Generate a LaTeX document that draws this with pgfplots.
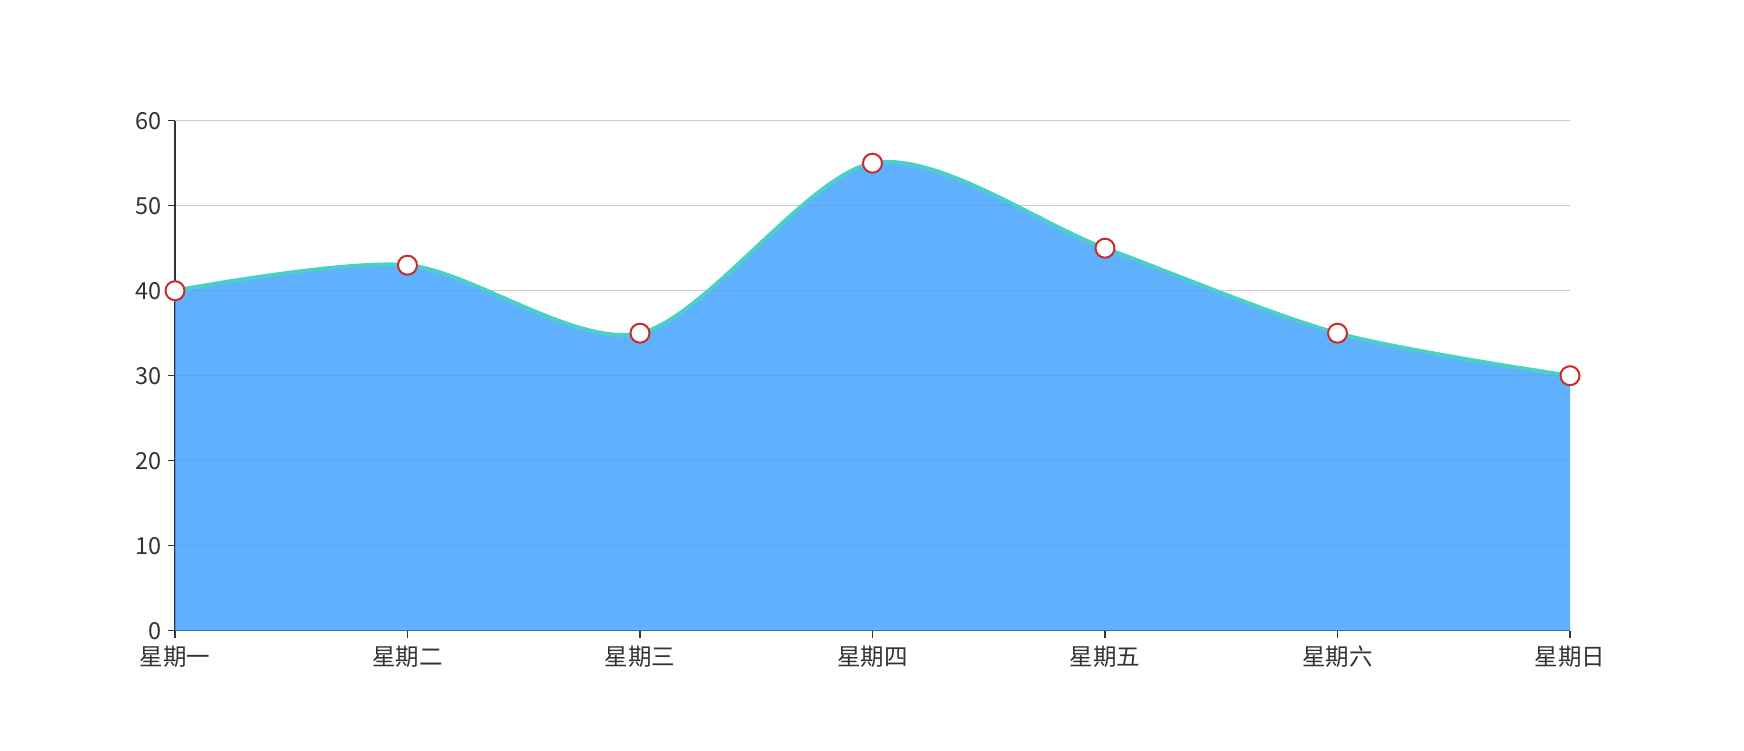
\documentclass[border=0pt]{standalone}
\usepackage{pgfplots}
\pgfplotsset{compat=1.18}
\usepackage{fontspec}
\setmainfont{Noto Sans CJK SC}
\definecolor{areafill}{RGB}{67,162,253}
\definecolor{linec}{RGB}{74,208,198}
\definecolor{markc}{RGB}{200,45,45}
\definecolor{gridc}{RGB}{204,204,204}
\definecolor{axc}{RGB}{51,51,51}
\begin{document}
\begin{tikzpicture}
\path[use as bounding box] (-175pt,-119.3pt) rectangle (1569pt,630.7pt);
\begin{axis}[
  scale only axis, width=1395pt, height=510pt,
  at={(0,0)}, anchor=south west,
  xmin=0, xmax=6, ymin=0, ymax=60,
  xtick={0,...,6},
  xticklabels={星期一,星期二,星期三,星期四,星期五,星期六,星期日},
  ytick={0,10,...,60},
  axis x line*=bottom, axis y line*=left,
  axis line style={axc, line width=1.5pt, -},
  tick style={axc, line width=1.5pt},
  tick align=outside, major tick length=7pt,
  ymajorgrids, grid style={gridc, line width=1.5pt},
  tick label style={font=\fontsize{23.5}{28}\selectfont, text=axc},
  /pgf/number format/assume math mode=true,
  xticklabel style={yshift=-5pt},
  yticklabel style={xshift=-3pt},
  clip=false,
]
\addplot[draw=none, fill=areafill, fill opacity=0.85, smooth, tension=0.5] coordinates {
(0,40) (1,43) (2,35) (3,55) (4,45) (5,35) (6,30)
} \closedcycle;
\addplot[linec, line width=4pt, smooth, tension=0.5,
  mark=*, mark size=9.5pt,
  mark options={fill=white, draw=markc, line width=2pt, solid}] coordinates {
(0,40) (1,43) (2,35) (3,55) (4,45) (5,35) (6,30)
};
\end{axis}
\end{tikzpicture}
\end{document}
